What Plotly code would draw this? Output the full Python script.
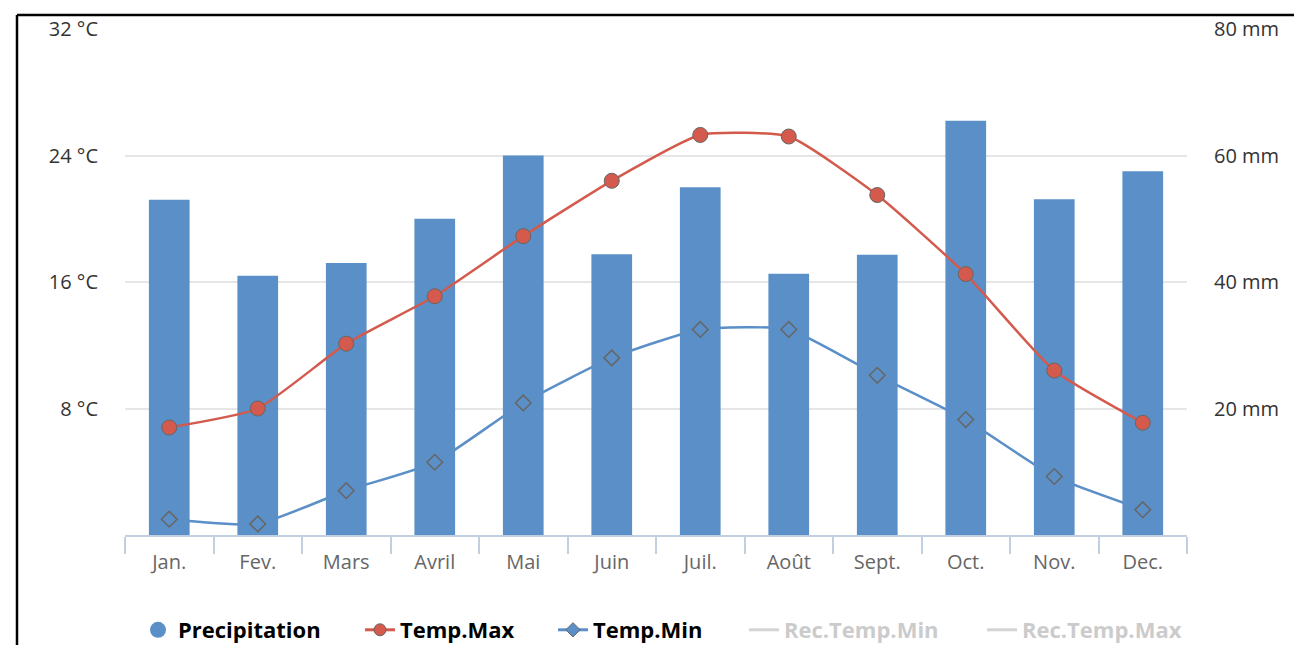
import plotly.graph_objects as go

months = ["Jan.", "Fev.", "Mars", "Avril", "Mai", "Juin", "Juil.", "Août", "Sept.", "Oct.", "Nov.", "Dec."]
precipitation = [53, 41, 43, 50, 60, 44.4, 55, 41.3, 44.3, 65.5, 53.1, 57.5]
temp_max = [6.8, 8.0, 12.1, 15.1, 18.9, 22.4, 25.3, 25.2, 21.5, 16.5, 10.4, 7.1]
temp_min = [1.0, 0.7, 2.8, 4.6, 8.35, 11.2, 13.0, 13.0, 10.1, 7.3, 3.7, 1.6]
temp_ticks = [0, 8, 16, 24, 32]
temp_tick_labels = ["", "8 °C", "16 °C", "24 °C", "32 °C"]
rain_ticks = [0, 20, 40, 60, 80]
rain_tick_labels = ["", "20 mm", "40 mm", "60 mm", "80 mm"]
legend_names = ["Precipitation", "Temp.Max", "Temp.Min", "Rec.Temp.Min", "Rec.Temp.Max"]

BLUE = "#5B8FC7"
RED = "#D35A4C"
FONT = "Open Sans"

L, R, T, B = 125, 107, 29, 110
W, H = 1294, 645
pw, ph = W - L - R, H - T - B


def px(x):
    return (x - L) / pw


def py(y):
    return (H - B - y) / ph


fig = go.Figure()
# data traces
fig.add_trace(go.Bar(x=months, y=precipitation, yaxis="y", marker=dict(color=BLUE, line=dict(width=0)),
                     width=0.46, showlegend=False, name=legend_names[0]))
fig.add_trace(go.Scatter(x=months, y=temp_max, yaxis="y2", mode="lines+markers", name=legend_names[1],
                         showlegend=False,
                         line=dict(color=RED, width=2.5, shape="spline", smoothing=0.5),
                         marker=dict(symbol="circle", size=15, color=RED, line=dict(color="#666666", width=1))))
fig.add_trace(go.Scatter(x=months, y=temp_min, yaxis="y2", mode="lines+markers", name=legend_names[2],
                         showlegend=False,
                         line=dict(color=BLUE, width=2.5, shape="spline", smoothing=0.5),
                         marker=dict(symbol="diamond-open", size=12, color="#666666",
                                     line=dict(color="#666666", width=1.5))))

# legend entries
fig.add_trace(go.Scatter(x=[None], y=[None], mode="markers", name=legend_names[0], legend="legend",
                         marker=dict(symbol="circle", size=16, color=BLUE)))
fig.add_trace(go.Scatter(x=[None], y=[None], mode="lines+markers", name=legend_names[1], legend="legend2",
                         line=dict(color=RED, width=3),
                         marker=dict(symbol="circle", size=12, color=RED, line=dict(color="#666666", width=1))))
fig.add_trace(go.Scatter(x=[None], y=[None], mode="lines+markers", name=legend_names[2], legend="legend3",
                         line=dict(color=BLUE, width=3),
                         marker=dict(symbol="diamond", size=11, color=BLUE, line=dict(color="#666666", width=1))))
fig.add_trace(go.Scatter(x=[None], y=[None], mode="lines", name=legend_names[3], legend="legend4",
                         line=dict(color="#aaaaaa", width=3), visible="legendonly"))
fig.add_trace(go.Scatter(x=[None], y=[None], mode="lines", name=legend_names[4], legend="legend5",
                         line=dict(color="#aaaaaa", width=3), visible="legendonly"))

fig.add_shape(type="line", xref="paper", yref="paper", x0=px(17), x1=px(1300), y0=py(15), y1=py(15),
              line=dict(color="black", width=2.5))
fig.add_shape(type="line", xref="paper", yref="paper", x0=px(17), x1=px(17), y0=py(15), y1=py(650),
              line=dict(color="black", width=2.5))

legend_font = dict(size=22, color="#000000", family=FONT, weight="bold")
grey_font = dict(size=22, color="#999999", family=FONT, weight="bold")
leg_common = dict(orientation="h", yanchor="middle", xanchor="left", y=py(630),
                  bgcolor="rgba(0,0,0,0)", borderwidth=0)
# symbol centers in reference: 155, 376, 569, 762, 1000
centers = [158, 380, 573, 764, 1002]

fig.update_layout(
    width=W, height=H,
    margin=dict(l=L, r=R, t=T, b=B, autoexpand=False),
    paper_bgcolor="white", plot_bgcolor="white",
    font=dict(family=FONT, color="#666666", size=20),
    xaxis=dict(type="category", tickson="boundaries", ticks="outside", ticklen=17, tickcolor="#C0D0E0",
               tickwidth=1.5, showline=True, linecolor="#C0D0E0", linewidth=2, showgrid=False,
               tickfont=dict(size=20, color="#666666"), range=[-0.5, 11.5], ticklabelstandoff=8),
    yaxis=dict(range=[0, 80], tickvals=rain_ticks, ticktext=rain_tick_labels, side="right",
               showgrid=True, gridcolor="#E6E6E6", gridwidth=2, zeroline=False, showline=False,
               tickfont=dict(size=20, color="#333333"), ticklabelstandoff=26),
    yaxis2=dict(range=[0, 32], tickvals=temp_ticks, ticktext=temp_tick_labels, overlaying="y", side="left",
                showgrid=False, zeroline=False, showline=False,
                tickfont=dict(size=20, color="#333333"), ticklabelstandoff=26),
    legend=dict(**leg_common, x=px(centers[0] - 20), font=legend_font),
    legend2=dict(**leg_common, x=px(centers[1] - 20), font=legend_font),
    legend3=dict(**leg_common, x=px(centers[2] - 20), font=legend_font),
    legend4=dict(**leg_common, x=px(centers[3] - 20), font=grey_font),
    legend5=dict(**leg_common, x=px(centers[4] - 20), font=grey_font),
    showlegend=True,
)

fig.write_html("out.html")
